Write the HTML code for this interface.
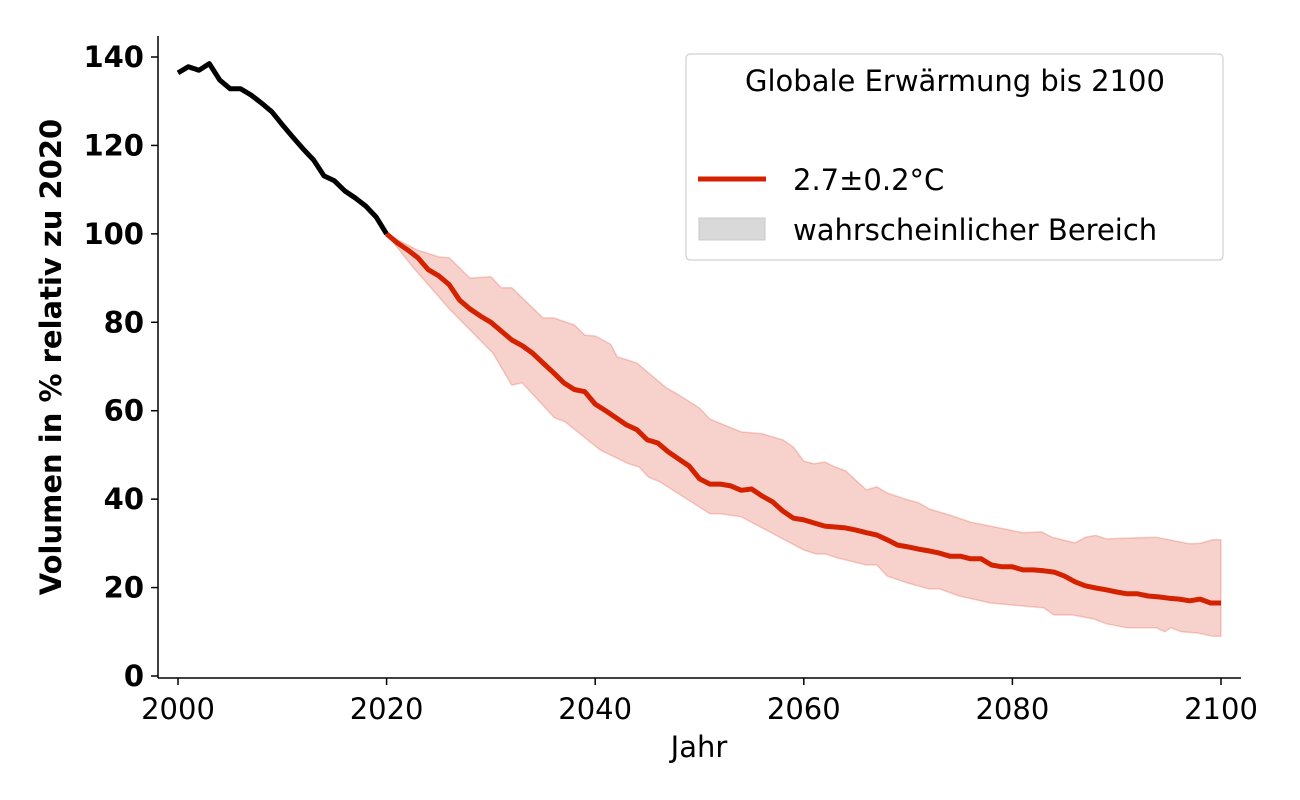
<!DOCTYPE html>
<html><head><meta charset="utf-8"><style>
html,body{margin:0;padding:0;background:#fff;}
svg{display:block;font-family:"DejaVu Sans","Liberation Sans",sans-serif;}
</style></head><body>
<svg id="chart" width="1300" height="800" viewBox="0 0 1300 800">
<g id="band"></g>
<g id="lines"></g>
<g id="axes"></g>
<text x="0" y="0" transform="translate(61,357) rotate(-90)" text-anchor="middle" font-size="29" font-weight="bold" fill="#000">Volumen in % relativ zu 2020</text>
<text x="699" y="757" text-anchor="middle" font-size="29" fill="#000">Jahr</text>
<g>
<rect x="686" y="54" width="537" height="206" rx="4" fill="#fff" stroke="#d0d0d0" stroke-width="1.2"/>
<text x="955" y="91" text-anchor="middle" font-size="29" fill="#000">Globale Erwärmung bis 2100</text>
<line x1="698" y1="179" x2="766" y2="179" stroke="#d42200" stroke-width="5"/>
<text x="793" y="190" font-size="29" fill="#000">2.7±0.2°C</text>
<rect x="699" y="218" width="66" height="22" fill="#d9d9d9" stroke="#c8c8c8"/>
<text x="793" y="240" font-size="29" fill="#000">wahrscheinlicher Bereich</text>
</g>
</svg>
<script>
const histYears = [2000,2001,2002,2003,2004,2005,2006,2007,2008,2009,2010,2011,2012,2013,2014,2015,2016,2017,2018,2019,2020];
const histValues = [136.4,137.8,137,138.5,134.8,132.8,132.8,131.4,129.6,127.6,124.7,121.9,119.2,116.7,113.1,112,109.7,108.1,106.3,103.8,100];
const projYears = [2020,2021,2022,2023,2024,2025,2026,2027,2028,2029,2030,2031,2032,2033,2034,2035,2036,2037,2038,2039,2040,2041,2042,2043,2044,2045,2046,2047,2048,2049,2050,2051,2052,2053,2054,2055,2056,2057,2058,2059,2060,2061,2062,2063,2064,2065,2066,2067,2068,2069,2070,2071,2072,2073,2074,2075,2076,2077,2078,2079,2080,2081,2082,2083,2084,2085,2086,2087,2088,2089,2090,2091,2092,2093,2094,2095,2096,2097,2098,2099,2100];
const projMean = [100,98,96.4,94.6,91.9,90.5,88.5,85,83,81.4,80,78,76,74.7,73,70.8,68.6,66.3,64.8,64.3,61.5,60,58.4,56.8,55.7,53.4,52.7,50.7,49.1,47.5,44.6,43.4,43.4,43,42,42.3,40.7,39.4,37.3,35.7,35.3,34.6,33.9,33.7,33.5,33,32.4,31.9,30.8,29.6,29.2,28.7,28.3,27.8,27.1,27.1,26.5,26.5,25.1,24.7,24.7,24,24,23.8,23.5,22.6,21.3,20.4,19.9,19.5,19,18.6,18.6,18.1,17.9,17.6,17.4,17,17.4,16.5,16.5];
const upperYears = [2020,2022.9,2025,2026,2028,2030,2031,2032,2035,2036,2038,2039,2040,2041.5,2042.1,2044,2046.8,2048,2050,2051,2054,2056,2058,2059,2060,2061,2062,2063,2064,2066,2067,2068,2070,2071,2072,2074,2076,2081,2082.8,2083.8,2086,2087,2088,2089,2091,2093.8,2097,2098,2099.2,2100];
const upperValues = [100,96.4,94.8,94.6,90,90.3,87.8,87.8,81,81,79.4,77.1,76.9,75,72.2,70.8,65.2,63.6,60.6,58.1,55.2,54.8,53.4,51.8,48.6,48,48.4,47.3,46.4,42.1,42.8,41.4,39.8,39.2,37.8,36.4,34.8,32.4,32.6,31.4,30.1,31.4,31.8,31,31.2,31.4,29.9,30,30.8,30.8];
const lowerYears = [2020,2022.5,2026.1,2030.2,2032,2033,2036.1,2037.1,2040.5,2043.2,2044.2,2045.1,2046.2,2051,2052,2054,2056.4,2060,2061.2,2062.1,2063.2,2066,2067,2068,2070,2072,2073,2074.9,2077.9,2083,2084,2085.8,2087.8,2089,2091,2092.2,2093.8,2094.6,2095.2,2096.2,2097.8,2099.2,2100];
const lowerValues = [100,92.5,82.8,73,65.8,66.3,58.4,57.5,51.1,48,47.3,45,43.9,36.7,36.7,36,33,28.5,27.6,27.6,26.7,25.1,25.1,22.6,21,19.7,19.7,18.1,16.5,15.4,13.8,13.8,12.9,11.8,10.9,10.9,10.9,10,10.9,10,9.7,9,9];
const xTicks = [2000,2020,2040,2060,2080,2100];
const yTicks = [0,20,40,60,80,100,120,140];

const NS = "http://www.w3.org/2000/svg";
const xS = y => 178 + (y - 2000) * 10.43;
const yS = v => 676 - v * 4.4214;
function mk(tag, attrs, parent){const e=document.createElementNS(NS,tag);for(const k in attrs)e.setAttribute(k,attrs[k]);parent.appendChild(e);return e;}
function pts(xs, vs){return xs.map((x,i)=>xS(x).toFixed(1)+","+yS(vs[i]).toFixed(1));}

const band = document.getElementById("band");
const up = pts(upperYears, upperValues);
const lo = pts(lowerYears, lowerValues).reverse();
const poly = mk("polygon", {points: up.concat(lo).join(" "), fill:"#d62000", "fill-opacity":"0.2", stroke:"#d62000", "stroke-opacity":"0.2", "stroke-width":"1.5"}, band);



const lines = document.getElementById("lines");
const h = mk("polyline", {points: pts(histYears, histValues).join(" "), fill:"none", stroke:"#000", "stroke-width":"5", "stroke-linejoin":"round"}, lines);


const p = mk("polyline", {points: pts(projYears, projMean).join(" "), fill:"none", stroke:"#d42200", "stroke-width":"5", "stroke-linejoin":"round"}, lines);



const axes = document.getElementById("axes");
const ly = mk("line", {x1:158, y1:36, x2:158, y2:678, stroke:"#000", "stroke-width":"1.5"}, axes);


const lx = mk("line", {x1:158, y1:678, x2:1241, y2:678, stroke:"#000", "stroke-width":"1.5"}, axes);


xTicks.forEach(t=>{
  const x = xS(t);
  const tk = mk("line", {x1:x, y1:678, x2:x, y2:685, stroke:"#000", "stroke-width":"1.5"}, axes);
  
  
  const tx = mk("text", {x:x, y:719, "text-anchor":"middle", "font-size":"29", fill:"#000"}, axes);
  tx.textContent = t;
  
  
});
yTicks.forEach(t=>{
  const y = yS(t);
  const tk = mk("line", {x1:151, y1:y, x2:158, y2:y, stroke:"#000", "stroke-width":"1.5"}, axes);
  
  
  const tx = mk("text", {x:144, y:y+10, "text-anchor":"end", "font-size":"29", "font-weight":"bold", fill:"#000"}, axes);
  tx.textContent = t;
  
  
});
</script>
</body></html>
